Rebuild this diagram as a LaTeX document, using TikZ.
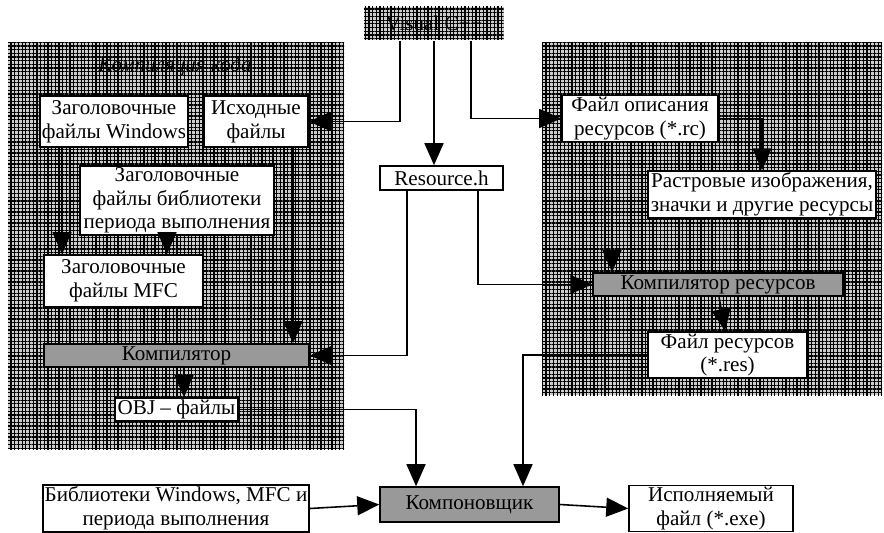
\documentclass[tikz,border=0pt]{standalone}
\usepackage{fontspec}
\setmainfont{Liberation Serif}
\usetikzlibrary{arrows.meta,patterns.meta}

\tikzset{
  panel/.style={fill=black!20,
    postaction={pattern={Lines[angle=0,distance=2.1pt,line width=0.7pt]}, pattern color=black},
    postaction={pattern={Lines[angle=90,distance=2.1pt,line width=0.7pt]}, pattern color=black}},
  box/.style={draw, fill=white, line width=0.9pt, align=center, inner sep=1pt,
    font=\fontsize{12}{13.5}\selectfont},
  grbox/.style={box, fill=black!40},
  flow/.style={-{Triangle[length=4.4mm, width=3.8mm]}, line width=0.9pt}
}

\begin{document}
\begin{tikzpicture}[x=0.02cm, y=-0.02cm]
  \useasboundingbox (0,0) rectangle (884,533);
  % фон панелей
  \fill[panel] (8,43) rectangle (344,449);
  \fill[panel] (542,43) rectangle (882,395);
  \node[box, panel, draw=none, minimum width=2.8cm, minimum height=0.66cm] (vis) at (434,23.5) {Visual C++};
  \node[font=\fontsize{12}{13.5}\selectfont\itshape] (title) at (175,66) {Компиляция кода};
  % компиляция кода
  \node[box, minimum width=2.8cm, minimum height=1.02cm] (winh) at (114,121.5) {Заголовочные\\файлы Windows};
  \node[box, minimum width=2.08cm, minimum height=1.02cm] (src) at (256,121.5) {Исходные\\файлы};
  \node[box, minimum width=3.88cm, minimum height=1.38cm] (rth) at (177,200.5) {Заголовочные\\файлы библиотеки\\периода выполнения};
  \node[box, minimum width=3.18cm, minimum height=1.04cm] (mfch) at (123.5,281) {Заголовочные\\файлы MFC};
  \node[grbox, minimum width=5.3cm, minimum height=0.46cm] (comp) at (176.5,355.5) {Компилятор};
  \node[box, minimum width=2.46cm, minimum height=0.46cm] (obj) at (176.5,409.5) {OBJ -- файлы};
  % ресурсы
  \node[box, minimum width=2.46cm, minimum height=0.48cm] (resh) at (441.5,178) {Resource.h};
  \node[box, minimum width=3.12cm, minimum height=0.9cm] (rc) at (640,118.5) {Файл описания\\ресурсов (*.rc)};
  \node[box, minimum width=4.56cm, minimum height=0.9cm] (bmp) at (762,194.5) {Растровые изображения,\\значки и другие ресурсы};
  \node[grbox, minimum width=5cm, minimum height=0.46cm] (rcomp) at (718,284.5) {Компилятор ресурсов};
  \node[box, minimum width=3.18cm, minimum height=0.92cm] (res) at (727.5,355) {Файл ресурсов\\(*.res)};
  % компоновка
  \node[grbox, minimum width=3.58cm, minimum height=0.7cm] (link) at (469.5,504.5) {Компоновщик};
  \node[box, minimum width=5.32cm, minimum height=0.9cm] (libs) at (176,508.5) {Библиотеки Windows, MFC и\\периода выполнения};
  \node[box, minimum width=3.28cm, minimum height=0.9cm] (exe) at (711,508.5) {Исполняемый\\файл (*.exe)};
  % связи
  \draw[flow] ([xshift=-0.68cm]vis.south) |- (src.east);
  \draw[flow] (vis.south) -- (vis.south |- resh.north);
  \draw[flow] ([xshift=0.74cm]vis.south) |- (rc.west);
  \draw[flow] (rc.east) -| (bmp.north);
  \draw[flow] ([xshift=-0.56cm]rc.south) -- ([xshift=-0.56cm]rc.south |- rcomp.north);
  \draw[flow] ([xshift=0.73cm]resh.south) |- (rcomp.west);
  \draw[flow] ([xshift=-0.69cm]resh.south) |- (comp.east);
  \draw[flow] ([xshift=0.74cm]src.south) -- ([xshift=0.74cm]src.south |- comp.north);
  \draw[flow] ([xshift=-1.04cm]winh.south) -- ([xshift=-1.04cm]winh.south |- mfch.north);
  \draw[flow] ([xshift=-0.2cm]rth.south) -- ([xshift=-0.2cm]rth.south |- mfch.north);
  \draw[flow] ([xshift=0.15cm]comp.south) -- ([xshift=0.15cm]comp.south |- obj.north);
  \draw[flow] ([xshift=0.02cm]rcomp.south) -- ([xshift=-0.05cm]res.north);
  \draw[flow] (obj.east) -| ([xshift=-1.07cm]link.north);
  \draw[flow] (res.west) -| ([xshift=1.07cm]link.north);
  \draw[flow] (libs.east) -- (link.west);
  \draw[flow] (link.east) -- (exe.west);
\end{tikzpicture}
\end{document}
